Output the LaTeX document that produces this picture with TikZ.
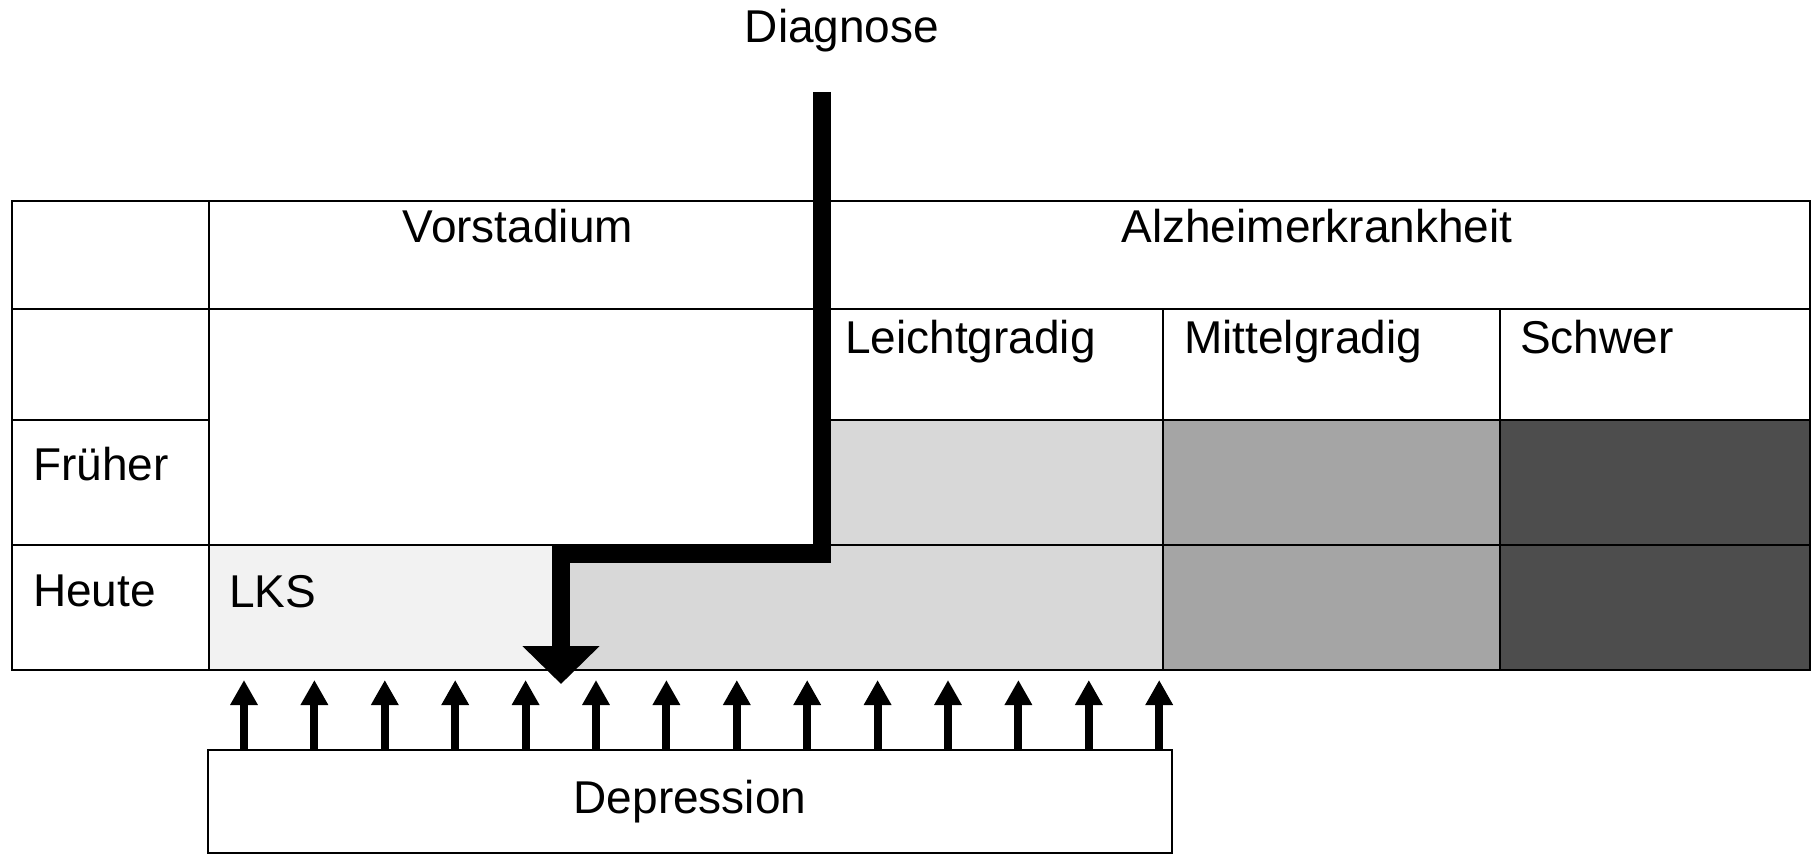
\documentclass[tikz,border=0pt]{standalone}
\usepackage{fontspec}
\setmainfont{Liberation Sans}
\usetikzlibrary{arrows.meta}
\definecolor{lksgray}{HTML}{F2F2F2}
\definecolor{leichtgray}{HTML}{D8D8D8}
\definecolor{mittelgray}{HTML}{A5A5A5}
\definecolor{schwergray}{HTML}{4D4D4D}
\begin{document}
\begin{tikzpicture}[x=1pt,y=-1pt,
  lbl/.style={font=\fontsize{46}{52}\selectfont, inner sep=0pt},
  gridline/.style={line width=2pt, draw=black},
  outerline/.style={line width=2.6pt, draw=black},
  diagline/.style={line width=18pt, line join=miter, line cap=butt,
    -{Triangle[width=75pt,length=38pt]}},
  deparrow/.style={line width=8pt, -{Triangle[width=26pt,length=25pt]}},
  depbox/.style={draw, line width=2.6pt, minimum width=964pt,
    minimum height=103pt, inner sep=0pt, fill=white,
    font=\fontsize{46}{52}\selectfont}]
\useasboundingbox (0,0) rectangle (1819,858);

% cell fills
\fill[lksgray] (209,545) rectangle (561,670);
\fill[leichtgray] (561,545) rectangle (1163,670);
\fill[leichtgray] (822,420) rectangle (1163,545);
\fill[mittelgray] (1163,420) rectangle (1500,670);
\fill[schwergray] (1500,420) rectangle (1810,670);

% grid lines
\draw[gridline] (12,309) -- (1810,309);
\draw[gridline] (12,420) -- (209,420);
\draw[gridline] (822,420) -- (1810,420);
\draw[gridline] (12,545) -- (1810,545);
\draw[gridline] (209,201) -- (209,670);
\draw[gridline] (1163,309) -- (1163,670);
\draw[gridline] (1500,309) -- (1500,670);
\draw[outerline] (12,201) rectangle (1810,670);

% texts
\node[lbl, anchor=base] (diag) at (842,43) {Diagnose};
\node[lbl, anchor=base] (vor) at (518,243) {Vorstadium};
\node[lbl, anchor=base] (alz) at (1317,243) {Alzheimerkrankheit};
\node[lbl, anchor=base west] (leicht) at (845,353) {Leichtgradig};
\node[lbl, anchor=base west] (mittel) at (1184,353) {Mittelgradig};
\node[lbl, anchor=base west] (schwer) at (1520,353) {Schwer};
\node[lbl, anchor=base west] (frueher) at (33,480) {Früher};
\node[lbl, anchor=base west] (heute) at (33,606) {Heute};
\node[lbl, anchor=base west] (lks) at (229,607) {LKS};

% diagnosis connector
\coordinate (dtop) at (822,92);
\coordinate (dend) at (561,684);
\draw[diagline] (dtop) -- (822,554) -- (561,554) -- (dend);

% depression box and arrows
\node[depbox] (dep) at (690,801.5) {Depression};
\foreach \i in {0,...,13} {
  \coordinate (a\i) at ({244+70.4*\i},680);
  \draw[deparrow] (a\i |- dep.north) -- (a\i);
}
\end{tikzpicture}
\end{document}
